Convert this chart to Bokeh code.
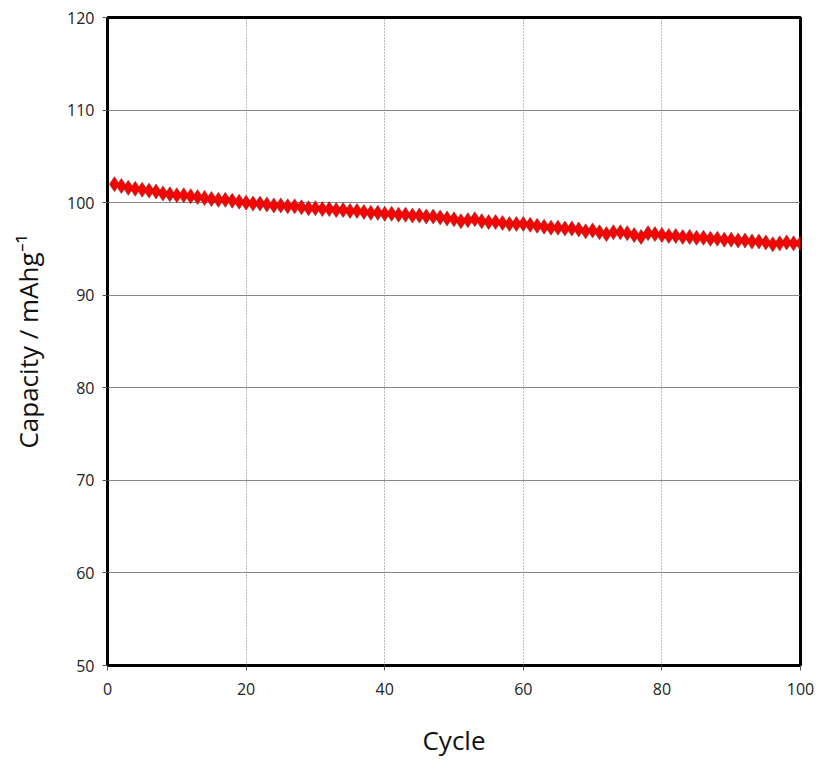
from bokeh.plotting import figure
from bokeh.models import Range1d, FixedTicker
from bokeh.embed import file_html
from bokeh.resources import INLINE

cycles = list(range(1, 101))
capacity = [
    102.0, 101.8, 101.6, 101.5, 101.4, 101.3, 101.2, 101.0, 100.9, 100.8,
    100.8, 100.7, 100.6, 100.5, 100.4, 100.3, 100.3, 100.2, 100.1, 100.0,
    99.9, 99.9, 99.8, 99.7, 99.7, 99.6, 99.6, 99.5, 99.4, 99.4,
    99.3, 99.3, 99.2, 99.2, 99.1, 99.1, 99.0, 98.9, 98.9, 98.8,
    98.8, 98.7, 98.7, 98.6, 98.6, 98.5, 98.5, 98.4, 98.3, 98.2,
    98.0, 98.1, 98.2, 98.0, 97.9, 97.9, 97.8, 97.7, 97.7, 97.7,
    97.6, 97.5, 97.4, 97.3, 97.3, 97.2, 97.2, 97.1, 96.9, 97.0,
    96.8, 96.6, 96.8, 96.8, 96.7, 96.5, 96.3, 96.7, 96.6, 96.5,
    96.4, 96.4, 96.3, 96.3, 96.2, 96.2, 96.1, 96.1, 96.0, 96.0,
    95.9, 95.9, 95.8, 95.8, 95.7, 95.5, 95.6, 95.7, 95.6, 95.6,
]
x_ticks = [0, 20, 40, 60, 80, 100]
y_ticks = [50, 60, 70, 80, 90, 100, 110, 120]

p = figure(width=818, height=761, output_backend="svg", toolbar_location=None,
           x_range=Range1d(0, 100), y_range=Range1d(50, 120),
           min_border_left=107, min_border_right=18, min_border_top=17, min_border_bottom=96)
p.background_fill_color = "white"
p.border_fill_color = "white"
p.outline_line_color = "black"
p.outline_line_width = 3

p.xaxis.ticker = FixedTicker(ticks=x_ticks)
p.yaxis.ticker = FixedTicker(ticks=y_ticks)
for ax in (p.xaxis[0], p.yaxis[0]):
    ax.axis_line_color = "black"
    ax.axis_line_width = 2
    ax.major_tick_in = 0
    ax.major_tick_out = 5
    ax.major_tick_line_color = "#555555"
    ax.minor_tick_line_color = None
    ax.major_label_text_font = "Open Sans"
    ax.major_label_text_font_size = "16px"
    ax.major_label_text_color = "#222222"
    ax.axis_label_text_font = "Open Sans"
    ax.axis_label_text_font_size = "26px"
    ax.axis_label_text_font_style = "normal"
    ax.axis_label_text_color = "#111111"
p.xaxis.major_label_standoff = 12
p.yaxis.major_label_standoff = 8
p.xaxis.axis_label = "Cycle"
p.yaxis.axis_label = "Capacity / mAhg\u207b\u00b9"
p.xaxis.axis_label_standoff = 24
p.yaxis.axis_label_standoff = 18

p.ygrid.grid_line_color = "#888888"
p.ygrid.grid_line_width = 1
p.xgrid.grid_line_color = "#777777"
p.xgrid.grid_line_dash = "1 2"
p.xgrid.grid_line_width = 1

p.scatter(cycles, capacity, marker="diamond", size=15, fill_color="#ff0000",
          line_color="#8a2a2a", line_width=0.6)

open("out.html", "w").write(file_html(p, INLINE))
